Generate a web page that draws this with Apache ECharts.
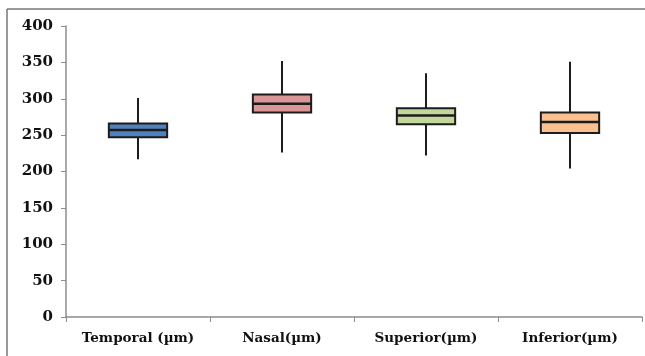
<!DOCTYPE html>
<html><head><meta charset="utf-8">
<script src="https://cdn.jsdelivr.net/npm/echarts@6/dist/echarts.min.js"></script>
<style>html,body{margin:0;padding:0;background:#fff}#c{width:645px;height:356px}</style>
</head><body><div id="c"></div>
<script>
const categories = ['Temporal (µm)', 'Nasal(µm)', 'Superior(µm)', 'Inferior(µm)'];
const lowWhisker = [217, 226, 222, 204];
const q1 = [247, 281, 265, 253];
const median = [257, 293, 277, 268];
const q3 = [266, 306, 287, 281];
const highWhisker = [301, 352, 335, 351];
const fills = ['#4f81bd', '#d99694', '#c3d69b', '#fac090'];
const yTicks = [0, 50, 100, 150, 200, 250, 300, 350, 400];

const data = categories.map((c, i) => [i, lowWhisker[i], q1[i], median[i], q3[i], highWhisker[i]]);
const chart = echarts.init(document.getElementById('c'));
chart.setOption({
  animation: false,
  grid: {left: 66, right: 3, top: 26, bottom: 39},
  xAxis: {
    type: 'category', data: categories,
    axisLine: {lineStyle: {color: '#8c8c8c', width: 1.5}},
    axisTick: {show: true, interval: 0, length: 5, lineStyle: {color: '#8c8c8c'}},
    axisLabel: {interval: 0, hideOverlap: false, color: '#111', fontFamily: 'DejaVu Serif', fontWeight: 'bold', fontSize: 13.5, margin: 14}
  },
  yAxis: {
    type: 'value', min: 0, max: 400, interval: 50,
    axisLine: {show: true, lineStyle: {color: '#8c8c8c', width: 1.5}},
    axisTick: {show: true, length: 5, lineStyle: {color: '#8c8c8c'}},
    splitLine: {show: false},
    axisLabel: {color: '#111', fontFamily: 'DejaVu Serif', fontWeight: 'bold', fontSize: 15, margin: 13,
      formatter: v => yTicks.includes(v) ? String(v) : ''}
  },
  series: [{
    type: 'custom',
    data: data,
    encode: {x: 0, y: [1, 2, 3, 4, 5]},
    renderItem: function (params, api) {
      const i = api.value(0);
      const band = api.size([1, 0])[0];
      const w = band * 0.405;
      const pLo = api.coord([i, api.value(1)]);
      const pQ1 = api.coord([i, api.value(2)]);
      const pMed = api.coord([i, api.value(3)]);
      const pQ3 = api.coord([i, api.value(4)]);
      const pHi = api.coord([i, api.value(5)]);
      const x = pLo[0];
      const stroke = '#1c1c1c';
      return {
        type: 'group',
        children: [
          {type: 'line', shape: {x1: x, y1: pHi[1], x2: x, y2: pLo[1]}, style: {stroke: stroke, lineWidth: 2}},
          {type: 'rect', shape: {x: x - w / 2, y: pQ3[1], width: w, height: pQ1[1] - pQ3[1]},
            style: {fill: fills[i], stroke: stroke, lineWidth: 2}},
          {type: 'line', shape: {x1: x - w / 2, y1: pMed[1], x2: x + w / 2, y2: pMed[1]}, style: {stroke: stroke, lineWidth: 2.5}}
        ]
      };
    }
  }],
  graphic: [
    {type: 'line', shape: {x1: 7, y1: 9, x2: 645, y2: 9}, style: {stroke: '#777', lineWidth: 1.5}},
    {type: 'line', shape: {x1: 7, y1: 9, x2: 7, y2: 356}, style: {stroke: '#777', lineWidth: 1.5}}
  ]
});
</script></body></html>
